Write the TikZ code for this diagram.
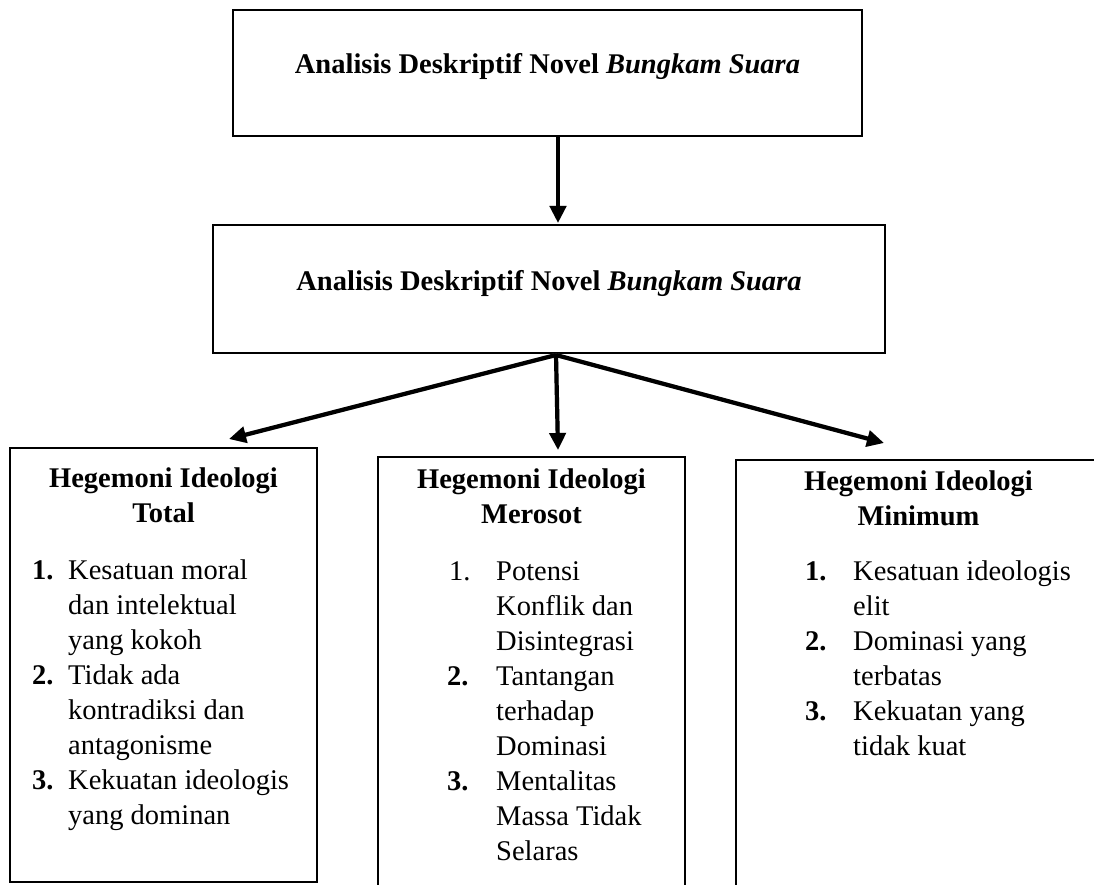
\documentclass[tikz,border=0pt]{standalone}
\usepackage{fontspec}
\setmainfont{Liberation Serif}
\usetikzlibrary{arrows.meta}
\tikzset{
  box/.style={draw=black, line width=2pt, rectangle, inner sep=0pt},
  txt/.style={inner sep=0pt, font=\fontsize{28.5}{35}\selectfont},
  arr/.style={line width=4.2pt, -{Triangle[length=17pt,width=16pt]}},
  shd/.style={line width=4.2pt, draw=black!40, opacity=0.5, -{Triangle[length=17pt,width=16pt]}, shift={(1.5,2)}}
}
\begin{document}
\begin{tikzpicture}[x=1pt,y=-1pt]
\useasboundingbox (0,0) rectangle (1094,885);
\fill[white] (0,0) rectangle (1094,885);

% top boxes
\node[box, minimum width=629pt, minimum height=126pt] (top) at (547.5,73) {};
\node[txt, anchor=base] (toptxt) at (547.5,74)
  {\textbf{Analisis Deskriptif Novel \textit{Bungkam Suara}}};
\node[box, minimum width=672pt, minimum height=128pt] (mid) at (549,289) {};
\node[txt, anchor=base] (midtxt) at (549,290)
  {\textbf{Analisis Deskriptif Novel \textit{Bungkam Suara}}};

% lower boxes
\node[box, minimum width=307pt, minimum height=434pt] (bl) at (163.5,665) {};
\node[box, minimum width=307pt, minimum height=486pt] (bm) at (531.5,700) {};
\node[box, minimum width=365pt, minimum height=490pt] (br) at (918.5,705) {};

% headings
\node[txt, anchor=base] (hl) at (163.5,487)
  {\begin{tabular}[t]{@{}c@{}}\textbf{Hegemoni Ideologi}\\\textbf{Total}\end{tabular}};
\node[txt, anchor=base] (hm) at (531.5,488)
  {\begin{tabular}[t]{@{}c@{}}\textbf{Hegemoni Ideologi}\\\textbf{Merosot}\end{tabular}};
\node[txt, anchor=base] (hr) at (918.5,490)
  {\begin{tabular}[t]{@{}c@{}}\textbf{Hegemoni Ideologi}\\\textbf{Minimum}\end{tabular}};

% lists
\node[txt, anchor=base west] (ll) at (32,579)
  {\begin{tabular}[t]{@{}p{36pt}@{}l@{}}
   \textbf{1.} & Kesatuan moral\\
               & dan intelektual\\
               & yang kokoh\\
   \textbf{2.} & Tidak ada\\
               & kontradiksi dan\\
               & antagonisme\\
   \textbf{3.} & Kekuatan ideologis\\
               & yang dominan
  \end{tabular}};
\node[txt, anchor=base west] (lm) at (447,580)
  {\begin{tabular}[t]{@{}p{49pt}@{}l@{}}
   \hspace{2pt}1. & Potensi\\
               & Konflik dan\\
               & Disintegrasi\\
   \textbf{2.} & Tantangan\\
               & terhadap\\
               & Dominasi\\
   \textbf{3.} & Mentalitas\\
               & Massa Tidak\\
               & Selaras
  \end{tabular}};
\node[txt, anchor=base west] (lr) at (805,580)
  {\begin{tabular}[t]{@{}p{48pt}@{}l@{}}
   \textbf{1.} & Kesatuan ideologis\\
               & elit\\
   \textbf{2.} & Dominasi yang\\
               & terbatas\\
   \textbf{3.} & Kekuatan yang\\
               & tidak kuat
  \end{tabular}};

% arrows
\coordinate (a1) at (558,137);
\coordinate (a2) at (558,223);
\coordinate (fork) at (556,355);
\coordinate (tl) at (229,439);
\coordinate (tm) at (558,450);
\coordinate (tr) at (884,443);

\draw[shd] (a1) -- (a2);
\draw[shd] (fork) -- (tl);
\draw[shd] (fork) -- (tm);
\draw[shd] (fork) -- (tr);
\draw[arr] (a1) -- (a2);
\draw[arr] (fork) -- (tl);
\draw[arr] (fork) -- (tm);
\draw[arr] (fork) -- (tr);
\end{tikzpicture}
\end{document}
